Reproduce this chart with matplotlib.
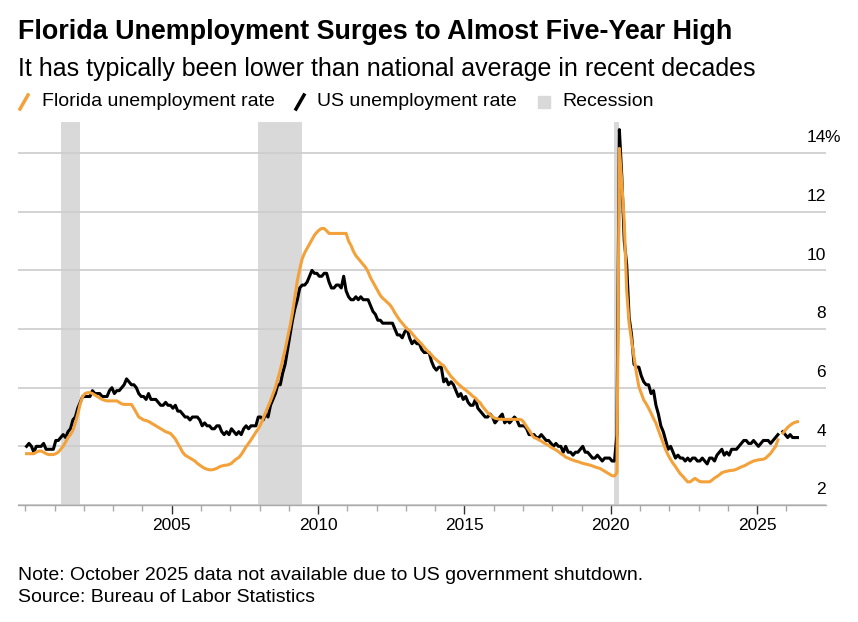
import numpy as np
import matplotlib.pyplot as plt
from matplotlib.lines import Line2D
from matplotlib.patches import Rectangle

plt.rcParams['font.family'] = ['Liberation Sans', 'DejaVu Sans']

# monthly rates, first value = Jan 2000 (Oct 2025 missing)
start_year = 2000
us_rate = [
    4.0, 4.1, 4.0, 3.8, 4.0, 4.0, 4.0, 4.1, 3.9, 3.9, 3.9, 3.9,
    4.2, 4.2, 4.3, 4.4, 4.3, 4.5, 4.6, 4.9, 5.0, 5.3, 5.5, 5.7,
    5.7, 5.7, 5.7, 5.9, 5.8, 5.8, 5.8, 5.7, 5.7, 5.7, 5.9, 6.0,
    5.8, 5.9, 5.9, 6.0, 6.1, 6.3, 6.2, 6.1, 6.1, 6.0, 5.8, 5.7,
    5.7, 5.6, 5.8, 5.6, 5.6, 5.6, 5.5, 5.4, 5.4, 5.5, 5.4, 5.4,
    5.3, 5.4, 5.2, 5.2, 5.1, 5.0, 5.0, 4.9, 5.0, 5.0, 5.0, 4.9,
    4.7, 4.8, 4.7, 4.7, 4.6, 4.6, 4.7, 4.7, 4.5, 4.4, 4.5, 4.4,
    4.6, 4.5, 4.4, 4.5, 4.4, 4.6, 4.7, 4.6, 4.7, 4.7, 4.7, 5.0,
    5.0, 4.9, 5.1, 5.0, 5.4, 5.6, 5.8, 6.1, 6.1, 6.5, 6.8, 7.3,
    7.8, 8.3, 8.7, 9.0, 9.4, 9.5, 9.5, 9.6, 9.8, 10.0, 9.9, 9.9,
    9.8, 9.8, 9.9, 9.9, 9.6, 9.4, 9.4, 9.5, 9.5, 9.4, 9.8, 9.3,
    9.1, 9.0, 9.0, 9.1, 9.0, 9.1, 9.0, 9.0, 9.0, 8.8, 8.6, 8.5,
    8.3, 8.3, 8.2, 8.2, 8.2, 8.2, 8.2, 8.0, 7.8, 7.8, 7.7, 7.9,
    8.0, 7.7, 7.5, 7.6, 7.5, 7.5, 7.3, 7.2, 7.2, 7.2, 6.9, 6.7,
    6.6, 6.7, 6.7, 6.2, 6.3, 6.1, 6.2, 6.1, 5.9, 5.7, 5.8, 5.6,
    5.7, 5.5, 5.4, 5.4, 5.6, 5.3, 5.2, 5.1, 5.0, 5.0, 5.1, 5.0,
    4.8, 4.9, 5.0, 5.1, 4.8, 4.9, 4.8, 4.9, 5.0, 4.9, 4.7, 4.7,
    4.7, 4.6, 4.4, 4.4, 4.4, 4.3, 4.3, 4.4, 4.3, 4.2, 4.2, 4.1,
    4.0, 4.1, 4.0, 4.0, 3.8, 4.0, 3.8, 3.8, 3.7, 3.8, 3.8, 3.9,
    4.0, 3.8, 3.8, 3.7, 3.6, 3.6, 3.7, 3.6, 3.5, 3.6, 3.6, 3.6,
    3.5, 3.5, 4.4, 14.8, 13.2, 11.0, 10.2, 8.4, 7.8, 6.8, 6.7, 6.7,
    6.4, 6.2, 6.1, 6.1, 5.8, 5.9, 5.4, 5.1, 4.7, 4.5, 4.2, 3.9,
    4.0, 3.8, 3.6, 3.7, 3.6, 3.6, 3.5, 3.6, 3.5, 3.6, 3.6, 3.5,
    3.5, 3.6, 3.5, 3.4, 3.6, 3.6, 3.5, 3.7, 3.8, 3.9, 3.7, 3.8,
    3.7, 3.9, 3.9, 3.9, 4.0, 4.1, 4.2, 4.2, 4.1, 4.1, 4.2, 4.1,
    4.0, 4.1, 4.2, 4.2, 4.2, 4.1, 4.2, 4.3, 4.4, np.nan, 4.5, 4.4,
    4.3, 4.4, 4.3, 4.3, 4.3,
]
fl_rate = [
    3.75, 3.75, 3.75, 3.75, 3.8, 3.84, 3.84, 3.8, 3.75, 3.72, 3.72, 3.72,
    3.75, 3.8, 3.9, 4.0, 4.15, 4.3, 4.4, 4.55, 4.8, 5.1, 5.45, 5.7,
    5.8, 5.83, 5.83, 5.8, 5.75, 5.7, 5.65, 5.6, 5.57, 5.55, 5.55, 5.55,
    5.55, 5.55, 5.5, 5.45, 5.43, 5.43, 5.43, 5.43, 5.3, 5.15, 5.0, 4.95,
    4.9, 4.88, 4.85, 4.8, 4.75, 4.7, 4.65, 4.6, 4.55, 4.5, 4.47, 4.44,
    4.35, 4.25, 4.1, 3.95, 3.8, 3.7, 3.65, 3.6, 3.55, 3.5, 3.42, 3.36,
    3.3, 3.25, 3.22, 3.2, 3.2, 3.22, 3.25, 3.3, 3.33, 3.35, 3.36, 3.38,
    3.42, 3.5, 3.57, 3.62, 3.72, 3.85, 3.99, 4.1, 4.22, 4.35, 4.48, 4.6,
    4.75, 4.95, 5.15, 5.35, 5.55, 5.78, 6.0, 6.3, 6.6, 6.95, 7.3, 7.7,
    8.1, 8.55, 9.1, 9.65, 10.05, 10.4, 10.6, 10.75, 10.9, 11.05, 11.2, 11.3,
    11.38, 11.43, 11.43, 11.35, 11.26, 11.26, 11.26, 11.26, 11.26, 11.26, 11.26, 11.26,
    11.0, 10.85, 10.65, 10.5, 10.4, 10.3, 10.2, 10.1, 9.95, 9.75, 9.6, 9.45,
    9.3, 9.15, 9.05, 8.98, 8.9, 8.82, 8.7, 8.55, 8.42, 8.3, 8.2, 8.1,
    8.0, 7.95, 7.85, 7.75, 7.65, 7.57, 7.48, 7.38, 7.28, 7.2, 7.12, 7.02,
    6.95, 6.88, 6.8, 6.75, 6.62, 6.5, 6.38, 6.3, 6.2, 6.12, 6.05, 5.98,
    5.92, 5.85, 5.78, 5.7, 5.65, 5.55, 5.48, 5.35, 5.25, 5.15, 5.08, 5.0,
    4.96, 4.94, 4.92, 4.92, 4.92, 4.92, 4.92, 4.92, 4.92, 4.92, 4.92, 4.9,
    4.8, 4.67, 4.55, 4.42, 4.3, 4.27, 4.22, 4.18, 4.12, 4.08, 4.03, 3.97,
    3.92, 3.88, 3.82, 3.75, 3.7, 3.63, 3.6, 3.56, 3.53, 3.5, 3.48, 3.45,
    3.42, 3.4, 3.38, 3.36, 3.33, 3.3, 3.27, 3.25, 3.2, 3.15, 3.1, 3.05,
    3.0, 2.99, 3.1, 14.16, 13.0, 11.66, 9.3, 8.2, 7.6, 7.06, 6.5, 6.03,
    5.8, 5.58, 5.45, 5.3, 5.13, 4.95, 4.79, 4.55, 4.33, 4.1, 3.88, 3.7,
    3.55, 3.42, 3.31, 3.18, 3.06, 2.98, 2.88, 2.79, 2.79, 2.85, 2.91, 2.85,
    2.8, 2.79, 2.79, 2.79, 2.79, 2.85, 2.92, 2.97, 3.03, 3.1, 3.13, 3.15,
    3.17, 3.18, 3.19, 3.22, 3.26, 3.3, 3.33, 3.37, 3.42, 3.46, 3.5, 3.52,
    3.54, 3.55, 3.56, 3.6, 3.68, 3.76, 3.88, 3.99, 4.22, np.nan, 4.45, 4.55,
    4.65, 4.72, 4.78, 4.82, 4.84,
]

# NBER recessions (peak month, trough month)
rec_start = [(2001, 3), (2007, 12), (2020, 2)]
rec_end = [(2001, 11), (2009, 6), (2020, 4)]

x_major = [2005, 2010, 2015, 2020, 2025]
x_minor = list(range(2000, 2027))
y_ticks = [2, 4, 6, 8, 10, 12, 14]

title = "Florida Unemployment Surges to Almost Five-Year High"
subtitle = "It has typically been lower than national average in recent decades"
note = "Note: October 2025 data not available due to US government shutdown."
source = "Source: Bureau of Labor Statistics"

ORANGE = "#f3a13a"
GREY = "#d9d9d9"

W, H = 858, 622
fig = plt.figure(figsize=(W / 100, H / 100), dpi=100)
ax = fig.add_axes([18 / W, 1 - 505 / H, (826 - 18) / W, (505 - 122) / H])


def month_x(y, m):
    return y + (m - 0.5) / 12


for (y0, m0), (y1, m1) in zip(rec_start, rec_end):
    ax.axvspan(month_x(y0, m0), month_x(y1, m1), color=GREY, lw=0, zorder=0)

mx = start_year + (np.arange(len(us_rate)) + 0.5) / 12
ax.plot(mx, us_rate, color="black", lw=2.2, zorder=3)
ax.plot(mx, fl_rate, color=ORANGE, lw=2.2, zorder=4)

ax.set_xlim(1999.75, 2027.35)
ax.set_ylim(2, 15.06)

for s in ["top", "left", "right"]:
    ax.spines[s].set_visible(False)
ax.spines["bottom"].set_color("#aaaaaa")
ax.spines["bottom"].set_linewidth(1)

ax.set_yticks(y_ticks)
ax.yaxis.grid(True, color="#cccccc", lw=1.2)
ax.tick_params(axis="y", length=0, labelleft=False)
ax.set_axisbelow(True)

ax.set_xticks(x_major)
ax.set_xticks([v for v in x_minor if v not in x_major], minor=True)
ax.set_xticklabels([str(v) for v in x_major])
ax.tick_params(axis="x", which="major", length=6.5, width=1, color="#333333",
               labelsize=12.5, pad=2.5)
ax.tick_params(axis="x", which="minor", length=4.3, width=1, color="#aaaaaa")

for v in y_ticks:
    ax.annotate(str(v), xy=(1, v), xycoords=("axes fraction", "data"),
                xytext=(0, 11), textcoords="offset points",
                ha="right", va="center", fontsize=12.5)
ax.annotate("%", xy=(1, y_ticks[-1]), xycoords=("axes fraction", "data"),
            xytext=(-1, 11), textcoords="offset points",
            ha="left", va="center", fontsize=12.5)

fig.text(18 / W, 1 - 32 / H, title, fontsize=19.4, weight="bold", va="center")
fig.text(18 / W, 1 - 69 / H, subtitle, fontsize=18, va="center")

ly = 1 - 102 / H
fig.add_artist(Line2D([20 / W, 28 / W], [1 - 109 / H, 1 - 95 / H], color=ORANGE, lw=2.5))
fig.text(42 / W, ly, "Florida unemployment rate", fontsize=14, va="center")
fig.add_artist(Line2D([296 / W, 304 / W], [1 - 109 / H, 1 - 95 / H], color="black", lw=2.5))
fig.text(317 / W, ly, "US unemployment rate", fontsize=14, va="center")
fig.add_artist(Rectangle((538 / W, 1 - 108 / H), 12 / W, 12 / H, color=GREY,
                         transform=fig.transFigure))
fig.text(562 / W, ly, "Recession", fontsize=14, va="center")

fig.text(18 / W, 1 - 575 / H, note, fontsize=14, va="center")
fig.text(18 / W, 1 - 597 / H, source, fontsize=14, va="center")

fig.savefig("out.png", dpi=100)
